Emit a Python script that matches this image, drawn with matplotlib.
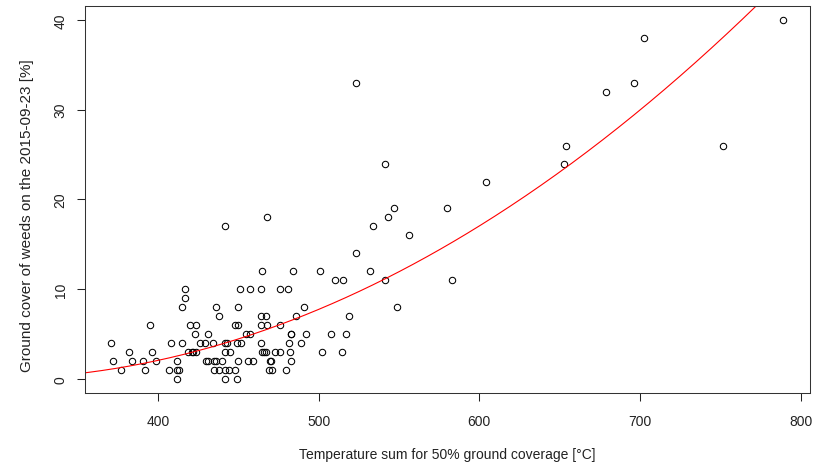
import numpy as np
import matplotlib
matplotlib.use("Agg")
import matplotlib.pyplot as plt

plt.rcParams['font.family'] = ['Liberation Sans', 'DejaVu Sans']

# temperature sum for 50% ground coverage [deg C]
temp_sum = [371, 382, 372, 384, 377, 391, 392, 395, 396, 399,
            407, 408, 412, 412, 413, 412, 415, 415, 417, 417,
            420, 424, 423, 431, 419, 421, 422, 424, 426, 429,
            434, 430, 431, 435, 436, 440, 436, 438, 442, 435,
            438, 442, 445, 442, 443, 442, 442, 444, 448, 449,
            450, 448, 450, 450, 451, 449, 452, 455, 457, 456,
            459, 457, 464, 465, 468, 464, 467, 464, 468, 464,
            465, 466, 467, 470, 470.5, 469, 471, 484, 476, 481,
            501, 510, 515, 523, 523, 532, 534, 541, 541, 543,
            547, 549, 556, 491, 486, 476, 519, 482.6, 483.1, 492,
            508, 517, 481.5, 489, 473, 476, 482, 502, 514.5, 483,
            480, 580, 583, 604, 652.5, 654, 679, 696, 702.5, 751.5,
            789]

# ground cover of weeds [%]
cover = [4, 3, 2, 2, 1, 2, 1, 6, 3, 2,
         1, 4, 2, 1, 1, 0, 4, 8, 10, 9,
         6, 6, 5, 5, 3, 3, 3, 3, 4, 4,
         4, 2, 2, 2, 2, 2, 8, 7, 17, 1,
         1, 3, 3, 4, 4, 0, 1, 1, 1, 0,
         2, 6, 6, 8, 10, 4, 4, 5, 5, 2,
         2, 10, 10, 12, 18, 7, 7, 6, 6, 4,
         3, 3, 3, 2, 2, 1, 1, 12, 10, 10,
         12, 11, 11, 33, 14, 12, 17, 24, 11, 18,
         19, 8, 16, 8, 7, 6, 7, 5, 5, 5,
         5, 5, 4, 4, 3, 3, 3, 3, 3, 2,
         1, 19, 11, 22, 24, 26, 32, 33, 38, 26,
         40]

# fitted curve: cover = (k * (T - T0))^2
k_fit = 0.01345
t0_fit = 293.0

fig = plt.figure(figsize=(8.21, 4.64), dpi=100)
ax = fig.add_axes([0.1039, 0.1509, 0.8827, 0.8341])

ax.plot(temp_sum, cover, linestyle='none', marker='o', markersize=4.6,
        markerfacecolor='none', markeredgecolor='black', markeredgewidth=0.75)

x_line = np.linspace(340, 820, 400)
ax.plot(x_line, (k_fit * (x_line - t0_fit)) ** 2, color='red', linewidth=0.8)

ax.set_xlim(354.8, 805.8)
ax.set_ylim(-1.56, 41.56)
ax.set_xticks([400, 500, 600, 700, 800])
ax.set_yticks([0, 10, 20, 30, 40])
ax.tick_params(length=5.8, width=0.75, labelsize=10, colors='#222222')
ax.tick_params(axis='x', pad=9.5)
ax.tick_params(axis='y', pad=7)
for lab in ax.get_yticklabels():
    lab.set_rotation(90)
    lab.set_va('center')
for s in ax.spines.values():
    s.set_linewidth(0.75)
    s.set_color('#333333')

fig.text(0.545, 0.019, 'Temperature sum for 50% ground coverage [°C]',
         ha='center', va='center', fontsize=10, color='#222222')
fig.text(0.033, 0.535, 'Ground cover of weeds on the 2015-09-23 [%]',
         ha='center', va='center', rotation=90, fontsize=11, color='#222222')

fig.savefig('out.png', dpi=100)
